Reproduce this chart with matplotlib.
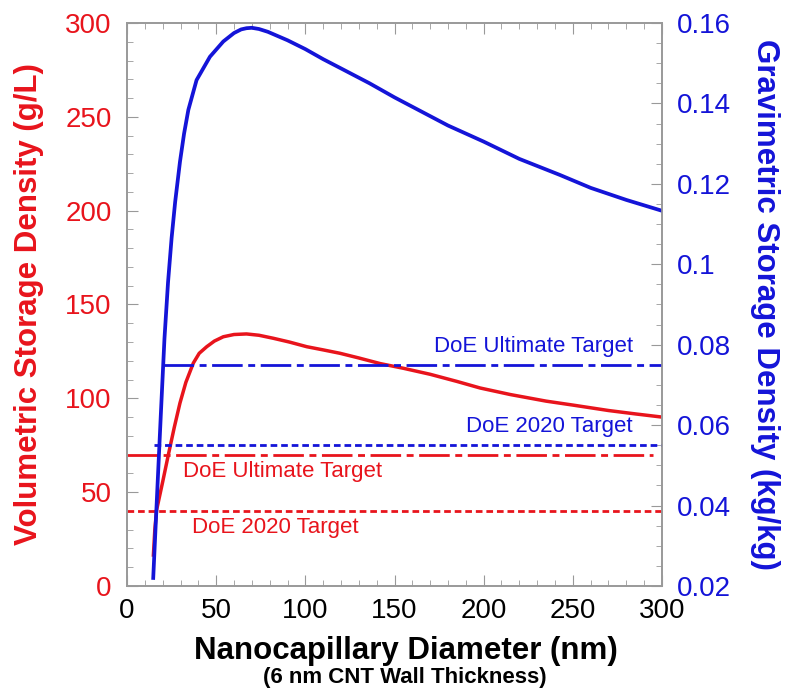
import matplotlib
matplotlib.use("Agg")
import matplotlib.pyplot as plt
from matplotlib.ticker import MultipleLocator

plt.rcParams["font.family"] = ["Liberation Sans", "DejaVu Sans"]

# nanocapillary diameter (nm) and volumetric density (g/L)
vol_x = [14.8, 15.6, 16.6, 20, 23.2, 26.5, 29.7, 33, 37.2, 40.5, 44.7, 49, 54, 60, 67,
         74, 82, 91, 100.8, 110, 119.4, 130, 142, 155, 170, 185, 198, 215, 235, 250,
         270, 285, 300]
vol_y = [16.5, 30, 40.5, 55.5, 70, 84.5, 97.5, 108.5, 118.8, 124, 127.5, 130.5, 132.8,
         134, 134.3, 133.6, 132, 130, 127.5, 125.8, 124, 121.5, 118.5, 116, 112.8, 109,
         105.5, 102, 98.5, 96.4, 93.5, 91.7, 90]

# gravimetric density (kg/kg)
grav_x = [14.7, 17, 19, 21, 23, 25, 27, 29.7, 32, 34.4, 39, 46.5, 54, 60, 64, 67, 70,
          74, 79, 90, 100, 110, 120, 136, 150, 165, 180, 200, 220, 242.8, 260, 280, 300]
grav_y = [0.022, 0.044, 0.063, 0.0815, 0.0955, 0.1065, 0.1155, 0.1255, 0.1325, 0.1384,
          0.1458, 0.1516, 0.1554, 0.1575, 0.1584, 0.1587, 0.1588, 0.1585, 0.1578, 0.1557,
          0.1535, 0.151, 0.1487, 0.145, 0.1415, 0.138, 0.1345, 0.1305, 0.1262, 0.1222,
          0.119, 0.116, 0.1133]

# DoE targets
vol_2020, vol_ult = 40, 70
grav_2020, grav_ult = 0.055, 0.075

red = "#e8141c"
blue = "#1414d8"
gray = "#999999"

fig = plt.figure(figsize=(7.85, 6.92), dpi=100)
ax = fig.add_axes([0.1618, 0.1532, 0.6815, 0.8136])
ax2 = ax.twinx()

ax.plot(vol_x, vol_y, color=red, lw=2.5)
ax.plot([0, 300], [vol_2020, vol_2020], color=red, lw=2.0, dashes=(2.4, 1.4))
ax.plot([0, 295], [vol_ult, vol_ult], color=red, lw=2.0, dashes=(11, 2, 2.5, 2))

ax2.plot(grav_x, grav_y, color=blue, lw=2.7)
ax2.plot([15, 300], [grav_2020, grav_2020], color=blue, lw=2.0, dashes=(2.4, 1.4))
ax2.plot([20, 300], [grav_ult, grav_ult], color=blue, lw=2.0, dashes=(11, 2, 2.5, 2))

ax.text(283.7, 127.5, "DoE Ultimate Target", color=blue, fontsize=16, ha="right", va="center")
ax.text(283.7, 84.9, "DoE 2020 Target", color=blue, fontsize=16, ha="right", va="center")
ax.text(31.6, 60.9, "DoE Ultimate Target", color=red, fontsize=16, ha="left", va="center")
ax.text(36.3, 30.9, "DoE 2020 Target", color=red, fontsize=16, ha="left", va="center")

ax.set_xlim(0, 300)
ax.set_ylim(0, 300)
ax2.set_ylim(0.02, 0.16)

ax.xaxis.set_major_locator(MultipleLocator(50))
ax.xaxis.set_minor_locator(MultipleLocator(10))
ax.yaxis.set_major_locator(MultipleLocator(50))
ax.yaxis.set_minor_locator(MultipleLocator(10))
ax2.yaxis.set_minor_locator(MultipleLocator(0.005))
ax2.set_yticks([0.02, 0.04, 0.06, 0.08, 0.1, 0.12, 0.14, 0.16],
               labels=["0.02", "0.04", "0.06", "0.08", "0.1", "0.12", "0.14", "0.16"])

ax.tick_params(axis="x", which="both", direction="in", top=True, color=gray, labelsize=20, pad=9)
ax.tick_params(axis="x", which="major", length=8)
ax.tick_params(axis="x", which="minor", length=4)
ax.tick_params(axis="y", which="both", direction="in", right=False, color=gray,
               labelsize=20, labelcolor=red, pad=11)
ax.tick_params(axis="y", which="major", length=8)
ax.tick_params(axis="y", which="minor", length=4)
ax2.tick_params(axis="y", which="both", direction="in", color=gray, labelsize=20,
                labelcolor=blue, pad=11)
ax2.tick_params(axis="y", which="major", length=8)
ax2.tick_params(axis="y", which="minor", length=4)

for a in (ax, ax2):
    for s in a.spines.values():
        s.set_color(gray)
        s.set_linewidth(1.2)

ax.set_ylabel("Volumetric Storage Density (g/L)", color=red, fontsize=22.5,
              fontweight="bold", va="bottom")
ax.yaxis.set_label_coords(-0.155, 0.5)
ax2.set_ylabel("Gravimetric Storage Density (kg/kg)", color=blue, fontsize=22.5,
               fontweight="bold", rotation=270, va="bottom")
ax2.yaxis.set_label_coords(1.1645, 0.5)
ax.set_xlabel("Nanocapillary Diameter (nm)", fontsize=22.5, fontweight="bold", va="top")
ax.xaxis.set_label_coords(0.5215, -0.0888)
fig.text(0.516, 0.006, "(6 nm CNT Wall Thickness)", fontsize=16, fontweight="bold",
         ha="center", va="bottom")

fig.savefig("out.png", dpi=100)
